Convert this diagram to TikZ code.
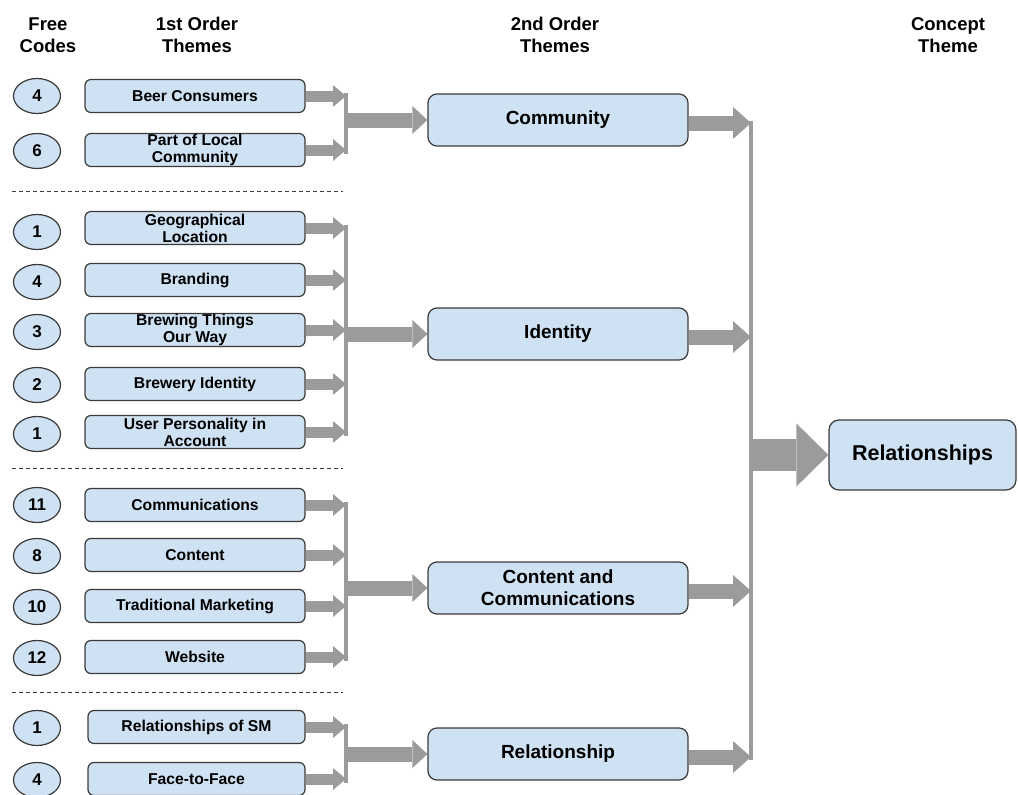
\documentclass[tikz,border=0pt]{standalone}
\usepackage{fontspec}
\setmainfont{Liberation Sans}
\usetikzlibrary{shapes.geometric,arrows.meta,calc}
\definecolor{boxblue}{HTML}{CFE2F3}
\definecolor{edge}{HTML}{3A3A3A}
\definecolor{flow}{HTML}{9B9B9B}

\begin{document}
\begin{tikzpicture}[x=1pt,y=-1pt,
  code/.style={ellipse,draw=edge,line width=1.2pt,fill=boxblue,minimum width=47pt,minimum height=35pt,inner sep=0pt,font=\bfseries\fontsize{17}{17}\selectfont},
  first/.style={rectangle,rounded corners=6pt,draw=edge,line width=1.2pt,fill=boxblue,minimum width=220pt,minimum height=33pt,inner sep=0pt,align=center,font=\bfseries\fontsize{15.7}{16.8}\selectfont},
  second/.style={first,rounded corners=9pt,minimum width=260pt,minimum height=52pt,font=\bfseries\fontsize{19}{22}\selectfont},
  concept/.style={first,rounded corners=10pt,minimum width=187pt,minimum height=70pt,font=\bfseries\fontsize{21.5}{24}\selectfont},
  head/.style={align=center,font=\bfseries\fontsize{18.5}{22}\selectfont},
  sep/.style={draw=edge,line width=1pt,dash pattern=on 4pt off 3pt},
  feed/.style={draw=flow,line width=11pt,-{Triangle[width=22pt,length=13pt,line width=0pt]}},
  merge/.style={draw=flow,line width=15pt,-{Triangle[width=28pt,length=15pt,line width=0pt]}},
  lift/.style={draw=flow,line width=15pt,-{Triangle[width=32pt,length=18pt,line width=0pt]}},
  final/.style={draw=flow,line width=32pt,-{Triangle[width=63pt,length=32pt,line width=0pt]}},
  bar/.style={draw=flow,line width=4pt},
]
\useasboundingbox (0,0) rectangle (1018,795);
\clip (0,0) rectangle (1018,795);

% column headings
\node[head] (hFree)    at (48,35)  {Free\\Codes};
\node[head] (hFirst)   at (197,35) {1st Order\\Themes};
\node[head] (hSecond)  at (555,35) {2nd Order\\Themes};
\node[head] (hConcept) at (948,35) {Concept\\Theme};

% free code counts
\node[code] (c1)  at (37,96)  {4};
\node[code] (c2)  at (37,151) {6};
\node[code] (c3)  at (37,232) {1};
\node[code] (c4)  at (37,282) {4};
\node[code] (c5)  at (37,332) {3};
\node[code] (c6)  at (37,385) {2};
\node[code] (c7)  at (37,434) {1};
\node[code] (c8)  at (37,505) {11};
\node[code] (c9)  at (37,556) {8};
\node[code] (c10) at (37,607) {10};
\node[code] (c11) at (37,658) {12};
\node[code] (c12) at (37,728) {1};
\node[code] (c13) at (37,780) {4};

% first order themes
\node[first] (f1)  at (195,96)  {Beer Consumers};
\node[first] (f2)  at (195,150) {Part of Local\\Community};
\node[first] (f3)  at (195,228) {Geographical\\Location};
\node[first] (f4)  at (195,280) {Branding};
\node[first] (f5)  at (195,330) {Brewing Things\\Our Way};
\node[first] (f6)  at (195,384) {Brewery Identity};
\node[first] (f7)  at (195,432) {User Personality in\\Account};
\node[first] (f8)  at (195,505) {Communications};
\node[first] (f9)  at (195,555) {Content};
\node[first] (f10) at (195,606) {Traditional Marketing};
\node[first] (f11) at (195,657) {Website};
\node[first,minimum width=217pt] (f12) at (196.5,727) {Relationships of SM};
\node[first,minimum width=217pt] (f13) at (196.5,779) {Face-to-Face};

% group separators
\draw[sep] (12,191) -- (343,191);
\draw[sep] (12,468) -- (343,468);
\draw[sep] (12,692) -- (343,692);

% second order themes
\node[second] (s1) at (558,120) {Community};
\node[second] (s2) at (558,334) {Identity};
\node[second] (s3) at (558,588) {Content and\\Communications};
\node[second] (s4) at (558,754) {Relationship};

% concept theme
\node[concept] (k1) at (922.5,455) {Relationships};

% collector bars
\coordinate (bA1) at (346,93);  \coordinate (bA2) at (346,154);
\coordinate (bB1) at (346,225); \coordinate (bB2) at (346,436);
\coordinate (bC1) at (346,502); \coordinate (bC2) at (346,661);
\coordinate (bD1) at (346,724); \coordinate (bD2) at (346,783);
\coordinate (bR1) at (751,121); \coordinate (bR2) at (751,760);

\draw[bar] (bA1) -- (bA2);
\draw[bar] (bB1) -- (bB2);
\draw[bar] (bC1) -- (bC2);
\draw[bar] (bD1) -- (bD2);
\draw[bar] (bR1) -- (bR2);

% first order -> collector
\foreach \f/\b in {f1/bA1,f2/bA1,f3/bB1,f4/bB1,f5/bB1,f6/bB1,f7/bB1,f8/bC1,f9/bC1,f10/bC1,f11/bC1,f12/bD1,f13/bD1}
  \draw[feed] (\f.east) -- (\f.east -| \b);

% collector -> second order
\draw[merge] (s1.west -| bA1) -- (s1.west);
\draw[merge] (s2.west -| bB1) -- (s2.west);
\draw[merge] (s3.west -| bC1) -- (s3.west);
\draw[merge] (s4.west -| bD1) -- (s4.west);

% second order -> concept collector
\foreach \s in {s1,s2,s3,s4}
  \draw[lift] ([yshift=-3pt]\s.east) -- ([yshift=-3pt]\s.east -| bR1);

% concept collector -> concept theme
\draw[final] (k1.west -| bR1) -- (k1.west);
\end{tikzpicture}
\end{document}
